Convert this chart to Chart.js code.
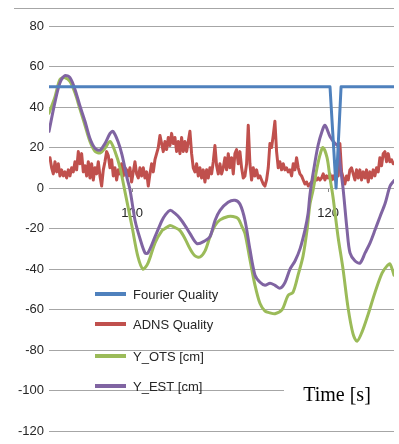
<!DOCTYPE html>
<html>
<head>
<meta charset="utf-8">
<script src="https://cdn.jsdelivr.net/npm/chart.js@4/dist/chart.umd.min.js"></script>
<style>
  body { margin: 0; background: #fff; }
  canvas { display: block; }
</style>
</head>
<body>
<canvas id="chart" width="399" height="444"></canvas>
<script>
const seriesLabels = ['Fourier Quality', 'ADNS Quality', 'Y_OTS [cm]', 'Y_EST [cm]'];
const seriesColors = ['#4F81BD', '#C0504D', '#9BBB59', '#8064A2'];
const xTickLabels = [100, 120];
const axisTitle = 'Time [s]';

// Fourier quality: flat at 50 with one drop
const fourierTime = [91.53, 120.2, 120.82, 121.33, 126.73];
const fourierValues = [50, 50, 0, 50, 50];

// ADNS quality, sampled every 0.17 s from 91.63 s
const adnsStart = 91.63;
const adnsStep = 0.17;
const adnsValues = [
  15, 10, 7, 13, 8, 12, 6, 9, 6, 8,
  5, 9, 6, 10, 8, 13, 9, 18, 12, 17,
  8, 11, 6, 13, 5, 12, 4, 10, 7, 13,
  6, 1, 9, 13, 18, 16, 10, 14, 6, 10,
  4, 9, 7, 12, 6, 10, 9, 6, 10, 3,
  8, 13, 7, 5, 10, 6, 10, 5, 8, 1,
  7, 12, 8, 14, 17, 20, 26, 22, 18, 23,
  19, 25, 21, 27, 22, 25, 18, 23, 17, 25,
  18, 23, 18, 23, 28, 17, 10, 8, 12, 6,
  10, 5, 9, 3, 9, 5, 10, 7, 13, 21,
  11, 7, 12,
  7, 10, 15, 9, 17, 10, 15, 7, 17, 19,
  12, 18, 10, 5, 6, 12, 31, 12, 4, 10,
  6, 9, 5, 6, 4, 2, 1, 4, 10, 22,
  20, 26, 33, 18, 10, 13, 9, 12, 9, 10,
  8, 9, 6, 12, 9, 15, 10, 7, 6, 4,
  2, 3, 1, 2, 3, 4, 5, 4, 5, 4,
  5, 7, 4, 6, 5, 7, 4, 6, 4, 8,
  6, 22, 8, 5, 2, 6, 4, 9, 10, 7,
  4, 9, 5, 9, 4, 8, 5, 9, 3, 8,
  5, 9, 6, 10, 8, 15, 11, 17, 18, 13,
  17, 13, 14, 12
];

const otsTime = [
  91.53, 92.14, 92.65, 93.16, 93.67, 94.18, 94.69, 95.20, 95.71, 96.22,
  96.73, 97.24, 97.76, 98.27, 98.78, 99.29, 100.0, 100.61, 101.12, 101.63,
  102.35, 103.06, 103.37, 103.88, 104.39, 104.90, 105.41, 105.92, 106.43, 106.94,
  107.45, 107.96, 108.47, 108.98, 109.80, 110.31, 110.82, 111.22, 111.53, 112.04,
  112.55, 113.06, 113.57, 114.08, 114.59, 115.31, 115.92, 116.43, 116.94, 117.45,
  117.86, 118.16, 118.47, 118.88, 119.18, 119.49, 119.90, 120.20, 120.51, 121.02,
  121.53, 122.04, 122.55, 122.96, 123.47, 124.08, 124.80, 125.51, 126.02, 126.33,
  126.73
];
const otsValues = [
  37, 45, 53.6, 54.5, 52.6, 47, 39, 31, 23, 18.2,
  17.3, 19.7, 23, 18, 10, -2, -19, -34, -40, -37,
  -27, -21, -20, -18.5, -19.5, -21, -25, -30, -33.5, -34,
  -31, -24, -18.5, -15.7, -14, -14, -15, -19, -22.5, -35.5,
  -48, -57, -60.7, -61.6, -62, -60, -53, -51.4, -43, -33.6,
  -20.6, -7.8, -1, 10, 16.4, 20, 15, 5, -4.5, -24,
  -40, -59, -72, -75.6, -71, -62.5, -51.4, -42, -38.4, -37.5,
  -43
];

const estTime = [
  91.53, 92.14, 92.65, 93.16, 93.67, 94.18, 94.69, 95.20, 95.71, 96.22,
  96.73, 97.24, 97.76, 98.06, 98.57, 98.98, 99.49, 99.80, 100.31, 100.82,
  101.33, 101.63, 102.35, 103.06, 103.37, 103.88, 104.39, 104.90, 105.41, 105.92,
  106.63, 107.45, 107.96, 108.47, 108.98, 109.80, 110.51, 111.02, 111.53, 112.04,
  112.55, 113.06, 113.57, 114.08, 114.59, 115.10, 115.61, 116.12, 116.63, 117.14,
  117.65, 117.96, 118.16, 118.57, 118.98, 119.39, 119.69, 120.20, 120.71, 121.02,
  121.22, 121.53, 121.94, 122.24, 122.76, 123.27, 123.78, 124.29, 124.80, 125.31,
  125.82, 126.33, 126.73
];
const estValues = [
  28, 42.4, 52, 55.5, 54.5, 48.7, 40.5, 33, 24.5, 19.7,
  18.7, 22, 27, 28, 23, 16.4, 5, -1, -16, -25,
  -32, -32, -24, -16, -13.5, -11, -12.5, -15, -18.5, -22.5,
  -27.4, -26, -24, -16, -11, -7, -6, -8, -16, -30.5,
  -43, -46.5, -48, -47, -48, -49.4, -46.6, -40, -36, -30,
  -20.6, -12.7, -3, 10, 21, 28, 31, 25.5, 22, 20.6,
  12, 0, -20.6, -32, -36, -37, -32, -27, -20.6, -14,
  -7.6, 1, 3.7
];

function pairs(times, values) {
  return values.map((v, i) => ({ x: times[i], y: v }));
}
const adnsTime = adnsValues.map((v, i) => adnsStart + i * adnsStep);

const font = '"Liberation Sans", Arial, sans-serif';

// legend drawn inside the plot, lower left
const insideLegend = {
  id: 'insideLegend',
  afterDatasetsDraw(chart) {
    const ctx = chart.ctx;
    const rows = [294, 324, 356, 386];
    ctx.save();
    chart.data.datasets.forEach((ds, i) => {
      ctx.strokeStyle = ds.borderColor;
      ctx.lineWidth = 4;
      ctx.beginPath();
      ctx.moveTo(95, rows[i]);
      ctx.lineTo(126, rows[i]);
      ctx.stroke();
      ctx.fillStyle = '#262626';
      ctx.font = '13px ' + font;
      ctx.textBaseline = 'middle';
      ctx.fillText(ds.label, 133, rows[i] + 1);
    });
    ctx.restore();
  }
};

const extras = {
  id: 'extras',
  afterDraw(chart) {
    const ctx = chart.ctx;
    ctx.save();
    // frame line on top
    ctx.strokeStyle = '#a6a6a6';
    ctx.lineWidth = 1;
    ctx.beginPath();
    ctx.moveTo(14, 8.5);
    ctx.lineTo(394, 8.5);
    ctx.stroke();
    // axis title box
    ctx.fillStyle = '#fff';
    ctx.fillRect(284, 382, 112, 28);
    ctx.fillStyle = '#000';
    ctx.font = '20px "Liberation Serif", "Times New Roman", serif';
    ctx.textAlign = 'center';
    ctx.textBaseline = 'middle';
    ctx.fillText(axisTitle, 337, 396);
    ctx.restore();
  }
};

new Chart(document.getElementById('chart'), {
  type: 'line',
  data: {
    datasets: [
      { label: seriesLabels[0], data: pairs(fourierTime, fourierValues), borderColor: seriesColors[0], order: 0, tension: 0 },
      { label: seriesLabels[1], data: pairs(adnsTime, adnsValues), borderColor: seriesColors[1], order: 3, tension: 0 },
      { label: seriesLabels[2], data: pairs(otsTime, otsValues), borderColor: seriesColors[2], order: 2, tension: 0.3 },
      { label: seriesLabels[3], data: pairs(estTime, estValues), borderColor: seriesColors[3], order: 1, tension: 0.3 }
    ]
  },
  options: {
    responsive: false,
    animation: false,
    devicePixelRatio: 1,
    layout: { padding: { top: 26, bottom: 5, left: 0, right: 5 } },
    elements: {
      point: { radius: 0 },
      line: { borderWidth: 3, fill: false, borderCapStyle: 'round', borderJoinStyle: 'round' }
    },
    plugins: {
      legend: { display: false },
      tooltip: { enabled: false }
    },
    scales: {
      x: {
        type: 'linear',
        min: 91.53,
        max: 126.73,
        position: { y: 0 },
        afterBuildTicks: (scale) => { scale.ticks = xTickLabels.map((v) => ({ value: v })); },
        grid: { drawOnChartArea: false, tickLength: 4, color: '#888' },
        border: { display: false },
        ticks: { padding: 14, autoSkip: false, maxRotation: 0, color: '#262626', font: { family: font, size: 13 } }
      },
      y: {
        min: -120,
        max: 80,
        afterFit: (scale) => { scale.width = 49; },
        grid: { color: '#a6a6a6', lineWidth: 1, drawTicks: false },
        border: { display: false },
        ticks: { stepSize: 20, padding: 5, color: '#262626', font: { family: font, size: 13 } }
      }
    }
  },
  plugins: [insideLegend, extras]
});
</script>
</body>
</html>
